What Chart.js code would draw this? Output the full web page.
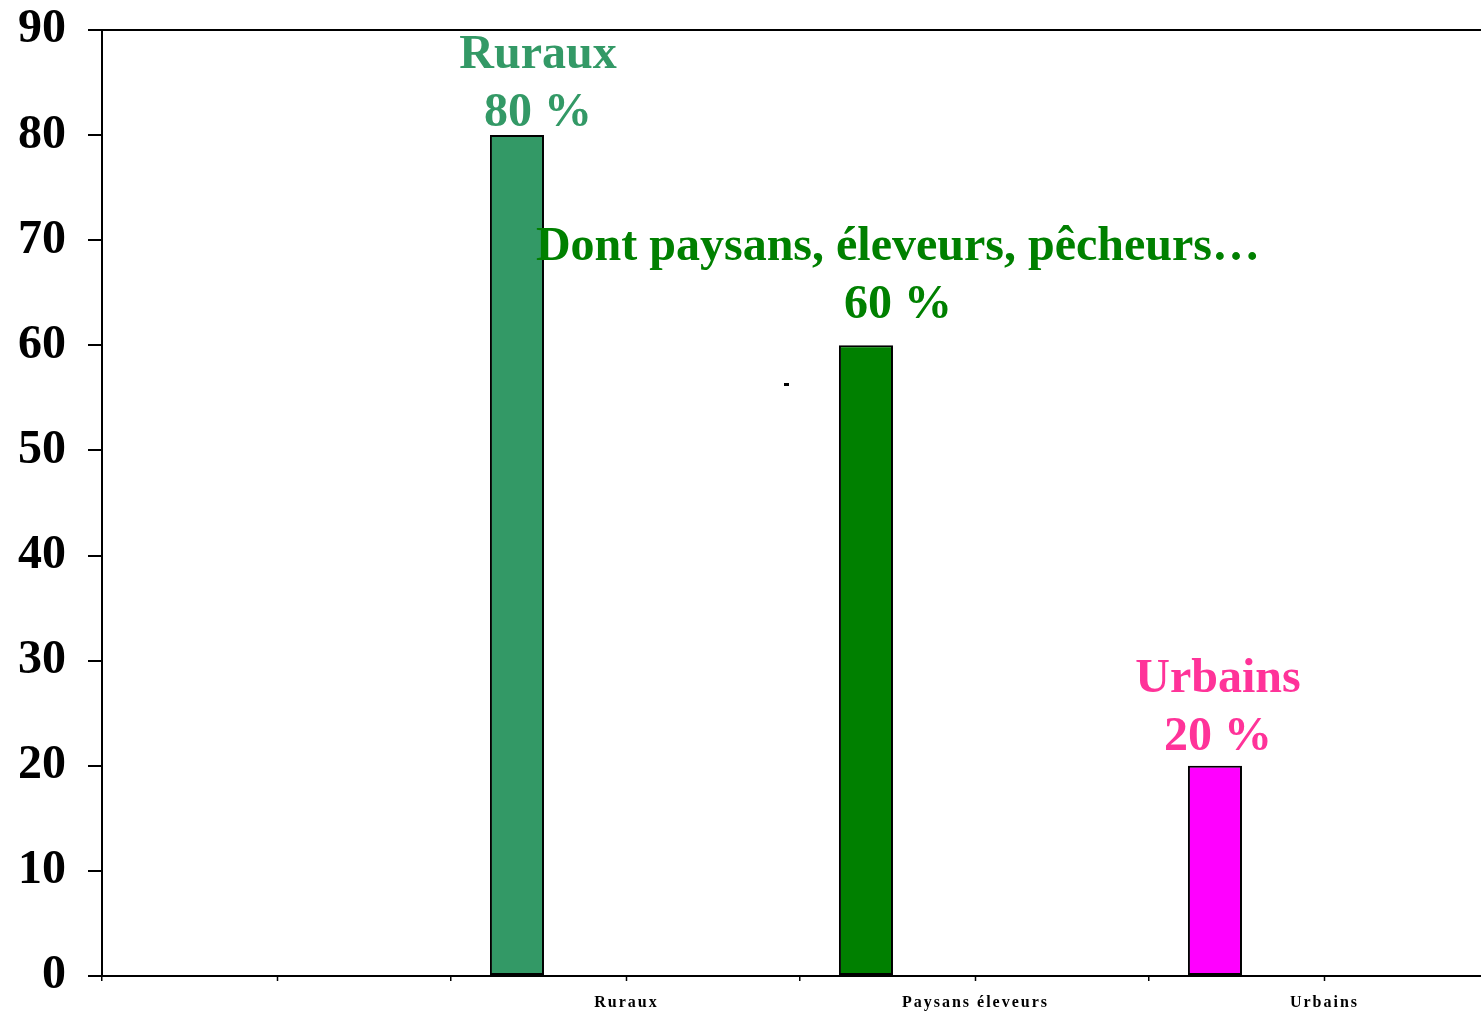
<!DOCTYPE html>
<html>
<head>
<meta charset="utf-8">
<script src="https://cdn.jsdelivr.net/npm/chart.js@4"></script>
<style>
  html, body { margin: 0; padding: 0; background: #fff; overflow: hidden; }
  canvas { display: block; }
</style>
</head>
<body>
<canvas id="chart" width="1500" height="1011"></canvas>
<script>
// data
var categories = ["", "Ruraux", "Paysans éleveurs", "Urbains"];
var shares = [null, 80, 60, 20];
var barColors = ["#ffffff", "#339966", "#008000", "#ff00ff"];
var yTicks = [0, 10, 20, 30, 40, 50, 60, 70, 80, 90];

// callouts above each bar
var calloutTitles = ["", "Ruraux", "Dont paysans, éleveurs, pêcheurs…", "Urbains"];
var calloutValues = ["", "80 %", "60 %", "20 %"];
var calloutColors = ["", "#339966", "#008000", "#ff3399"];
// offsets from the bar top / bar centre, in px
var calloutDx = [0, 21, 32, 3];
var calloutDy = [0, 67, 85, 74];
var calloutGap = 58;

var serif = "'Liberation Serif', 'Times New Roman', serif";

var decorPlugin = {
  id: "decor",
  afterDraw: function(chart) {
    var ctx = chart.ctx;
    var area = chart.chartArea;
    var x = chart.scales.x;
    var y = chart.scales.y;
    var meta = chart.getDatasetMeta(0);

    ctx.save();
    // top border of the plot area
    ctx.strokeStyle = "#000";
    ctx.lineWidth = 2;
    ctx.beginPath();
    ctx.moveTo(area.left, area.top);
    ctx.lineTo(area.right, area.top);
    ctx.stroke();

    // extra tick marks at category centres
    ctx.lineWidth = 1.5;
    categories.forEach(function(c, i) {
      var px = Math.round(x.getPixelForValue(i)) + 0.5;
      ctx.beginPath();
      ctx.moveTo(px, area.bottom);
      ctx.lineTo(px, area.bottom + 5);
      ctx.stroke();
    });

    // category labels, spaced out
    ctx.fillStyle = "#000";
    ctx.font = "bold 16px " + serif;
    ctx.textAlign = "center";
    ctx.textBaseline = "alphabetic";
    ctx.letterSpacing = "2px";
    categories.forEach(function(c, i) {
      if (!c) return;
      ctx.fillText(c, x.getPixelForValue(i) + 1, 1007);
    });
    ctx.letterSpacing = "0px";

    // small stray dash
    ctx.fillRect(784, 383, 5, 3);

    // callouts
    ctx.font = "bold 48px " + serif;
    meta.data.forEach(function(bar, i) {
      if (!calloutTitles[i] || shares[i] == null) return;
      var top = y.getPixelForValue(shares[i]);
      var cx = bar.x + calloutDx[i];
      ctx.fillStyle = calloutColors[i];
      ctx.fillText(calloutTitles[i], cx, top - calloutDy[i]);
      ctx.fillText(calloutValues[i], cx, top - calloutDy[i] + calloutGap);
    });
    ctx.restore();
  }
};

new Chart(document.getElementById("chart"), {
  type: "bar",
  data: {
    labels: categories,
    datasets: [
      {
        label: "Population",
        data: shares,
        backgroundColor: barColors,
        borderColor: "#000",
        borderWidth: 2,
        borderSkipped: false
      },
      // empty series, they only hold the place of the other bars in each group
      { label: "s2", data: [null, null, null, null] },
      { label: "s3", data: [null, null, null, null] }
    ]
  },
  options: {
    responsive: false,
    animation: false,
    devicePixelRatio: 1,
    categoryPercentage: 0.933,
    barPercentage: 0.498,
    layout: { padding: { top: 30, right: 2, left: 0, bottom: 0 } },
    plugins: {
      legend: { display: false },
      tooltip: { enabled: false }
    },
    scales: {
      x: {
        offset: true,
        grid: {
          offset: true,
          drawOnChartArea: false,
          drawTicks: true,
          tickLength: 5,
          color: "#000",
          lineWidth: 1.5
        },
        border: { display: true, color: "#000", width: 2 },
        ticks: { display: false },
        afterFit: function(scale) { scale.height = 35; }
      },
      y: {
        min: 0,
        max: 90,
        afterBuildTicks: function(scale) {
          scale.ticks = yTicks.map(function(v) { return { value: v }; });
        },
        grid: {
          drawOnChartArea: false,
          drawTicks: true,
          tickLength: 14,
          color: "#000",
          lineWidth: 2
        },
        border: { display: true, color: "#000", width: 2 },
        ticks: {
          color: "#000",
          padding: 22,
          font: { family: serif, size: 48, weight: "bold", lineHeight: 0.3 }
        },
        afterFit: function(scale) { scale.width = 102; }
      }
    }
  },
  plugins: [decorPlugin]
});
</script>
</body>
</html>
